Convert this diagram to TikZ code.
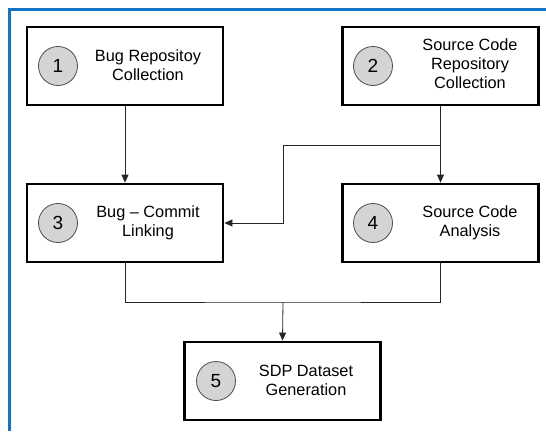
\documentclass[tikz,border=0pt]{standalone}
\usepackage{fontspec}
\setmainfont{Liberation Sans}
\usetikzlibrary{arrows.meta}
\definecolor{frameblue}{RGB}{20,115,200}
\begin{document}
\begin{tikzpicture}[x=1pt,y=-1pt,
  stepbox/.style={draw=black,line width=2.8pt,minimum width=196pt,minimum height=78pt,inner sep=0pt},
  numcirc/.style={circle,draw=black!70,fill=black!17,line width=0.8pt,minimum size=39pt,inner sep=0pt,font=\fontsize{19}{19}\selectfont},
  lbl/.style={align=center,font=\fontsize{16.3}{19}\selectfont},
  conn/.style={draw=black!85,line width=0.8pt},
  arr/.style={conn,-{Triangle[length=8pt,width=7pt]}}]
\useasboundingbox (0,0) rectangle (546,431);
\draw[frameblue,line width=3pt] (9.5,431) coordinate (fa) -- (9.5,9.5) coordinate (fb) -- (546,9.5) coordinate (fc);
% boxes
\node[stepbox] (b1) at (125,66) {};
\node[stepbox] (b2) at (440.5,66) {};
\node[stepbox] (b3) at (125,223) {};
\node[stepbox] (b4) at (440.5,223) {};
\node[stepbox] (b5) at (282.5,381) {};
% circles
\node[numcirc] (c1) at (58,66) {1};
\node[numcirc] (c2) at (373,66) {2};
\node[numcirc] (c3) at (58,223) {3};
\node[numcirc] (c4) at (373,223) {4};
\node[numcirc] (c5) at (216,381) {5};
% labels
\node[lbl] (t1) at (148,65) {Bug Repositoy\\Collection};
\node[lbl] (t2) at (470,64) {Source Code\\Repository\\Collection};
\node[lbl] (t3) at (148,223) {Bug -- Commit\\Linking};
\node[lbl] (t4) at (470,223) {Source Code\\Analysis};
\node[lbl] (t5) at (306,380) {SDP Dataset\\Generation};
% connectors
\coordinate (j1) at (440.5,145);
\coordinate (j2) at (283,145);
\coordinate (j3) at (283,302);
\draw[arr] (b1.south) -- (b3.north);
\draw[arr] (b2.south) -- (b4.north);
\draw[arr] (j1) -- (j2) -- (j2 |- b3.east) -- (b3.east);
\draw[conn] (b3.south) |- (j3) -| (b4.south);
\draw[arr] (j3) -- (b5.north);
\end{tikzpicture}
\end{document}
